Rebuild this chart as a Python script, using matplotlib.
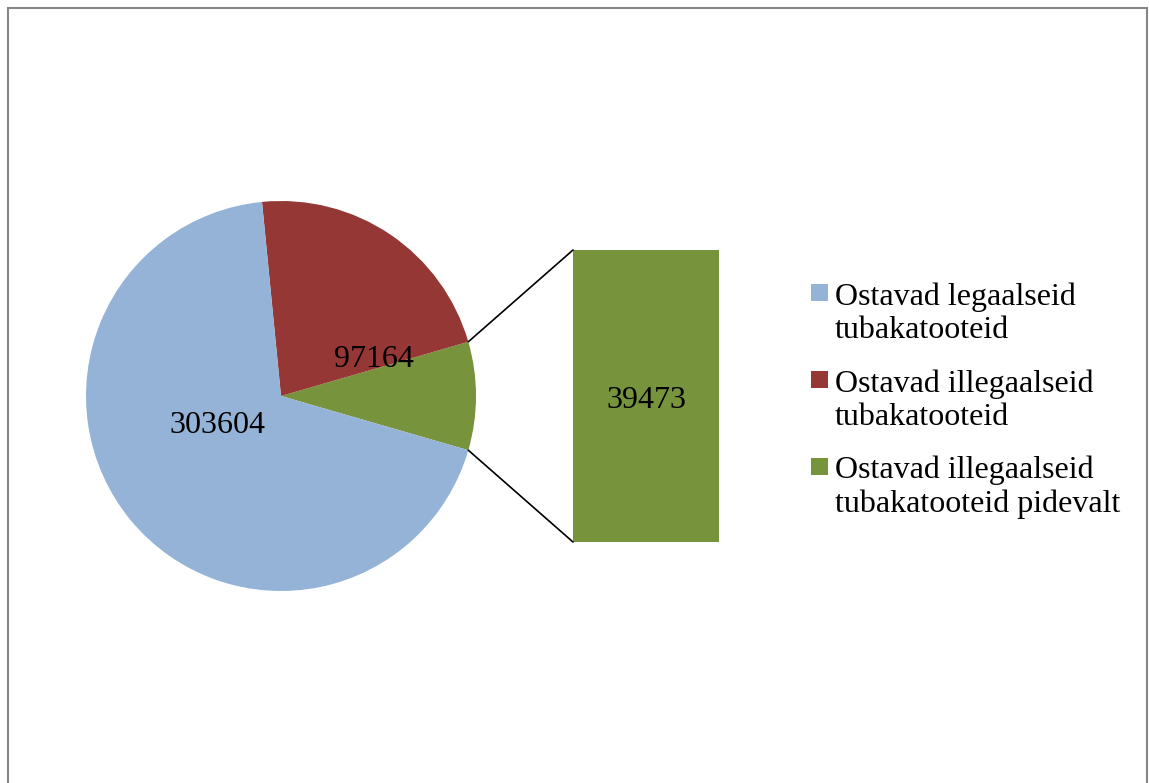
import matplotlib
matplotlib.use("Agg")
import matplotlib.pyplot as plt
import numpy as np
from matplotlib.patches import Rectangle, ConnectionPatch

plt.rcParams['font.family'] = ['Liberation Serif', 'DejaVu Serif']

# data
categories = [
    "Ostavad legaalseid\ntubakatooteid",
    "Ostavad illegaalseid\ntubakatooteid",
    "Ostavad illegaalseid\ntubakatooteid pidevalt",
]
values = [303604, 97164, 39473]
colors = ["#95B3D7", "#953735", "#77933C"]

W, H = 1149, 783
FS = 23

fig = plt.figure(figsize=(W / 100, H / 100), dpi=100)

# outer grey frame (bottom edge is cut off in the original)
fig.patches.append(Rectangle((7.5 / W, -0.05), (1146.5 - 7.5) / W, 1 - 7.5 / H + 0.05,
                             transform=fig.transFigure, fill=False,
                             edgecolor="#868686", linewidth=1.5, zorder=0))

# pie: drawn counter-clockwise starting with the green slice centred on 0 deg
total = sum(values)
order = [2, 1, 0]
start = -180.0 * values[2] / total
ax = fig.add_axes([86 / W, 1 - 591 / H, 390 / W, 390 / H])
wedges, _ = ax.pie([values[i] for i in order], colors=[colors[i] for i in order],
                   startangle=start, counterclock=True, radius=1,
                   wedgeprops=dict(linewidth=0))
ax.set_xlim(-1, 1)
ax.set_ylim(-1, 1)

# data labels inside the pie (positions as Excel placed them)
label_pos = {0: (-0.328, -0.133), 1: (0.477, 0.21)}
for i, (lx, ly) in label_pos.items():
    ax.annotate(str(values[i]), (lx, ly), xytext=(0, -4), textcoords="offset pixels",
                ha="center", va="center", fontsize=FS)

# the bar that breaks out the small slice
bx = fig.add_axes([573 / W, 1 - 542 / H, 146 / W, 292 / H])
bx.bar([0], [values[2]], width=1, color=colors[2], linewidth=0)
bx.set_xlim(-0.5, 0.5)
bx.set_ylim(0, values[2])
bx.axis("off")
bx.annotate(str(values[2]), (0, values[2] / 2), xytext=(0, -4), textcoords="offset pixels",
            ha="center", va="center", fontsize=FS)

# connector lines from the green slice edges to the bar corners
gw = wedges[0]
for ang, yb in [(gw.theta2, values[2]), (gw.theta1, 0)]:
    t = np.deg2rad(ang)
    con = ConnectionPatch(xyA=(np.cos(t), np.sin(t)), coordsA=ax.transData,
                          xyB=(-0.5, yb), coordsB=bx.transData,
                          color="black", linewidth=1.2)
    fig.add_artist(con)

# legend (marker squares aligned to first line, as in Excel)
sq = 17
for k, lab in enumerate(categories):
    yc = 292.5 + 87 * k
    fig.patches.append(Rectangle((811 / W, 1 - (yc + sq / 2) / H), sq / W, sq / H,
                                 transform=fig.transFigure, facecolor=colors[k],
                                 edgecolor="none"))
    # va="baseline" anchors the last line's baseline
    fig.text(835 / W, 1 - (yc + 45.5) / H, lab, ha="left", va="baseline",
             fontsize=FS, linespacing=1.18)

fig.savefig("out.png", dpi=100)
